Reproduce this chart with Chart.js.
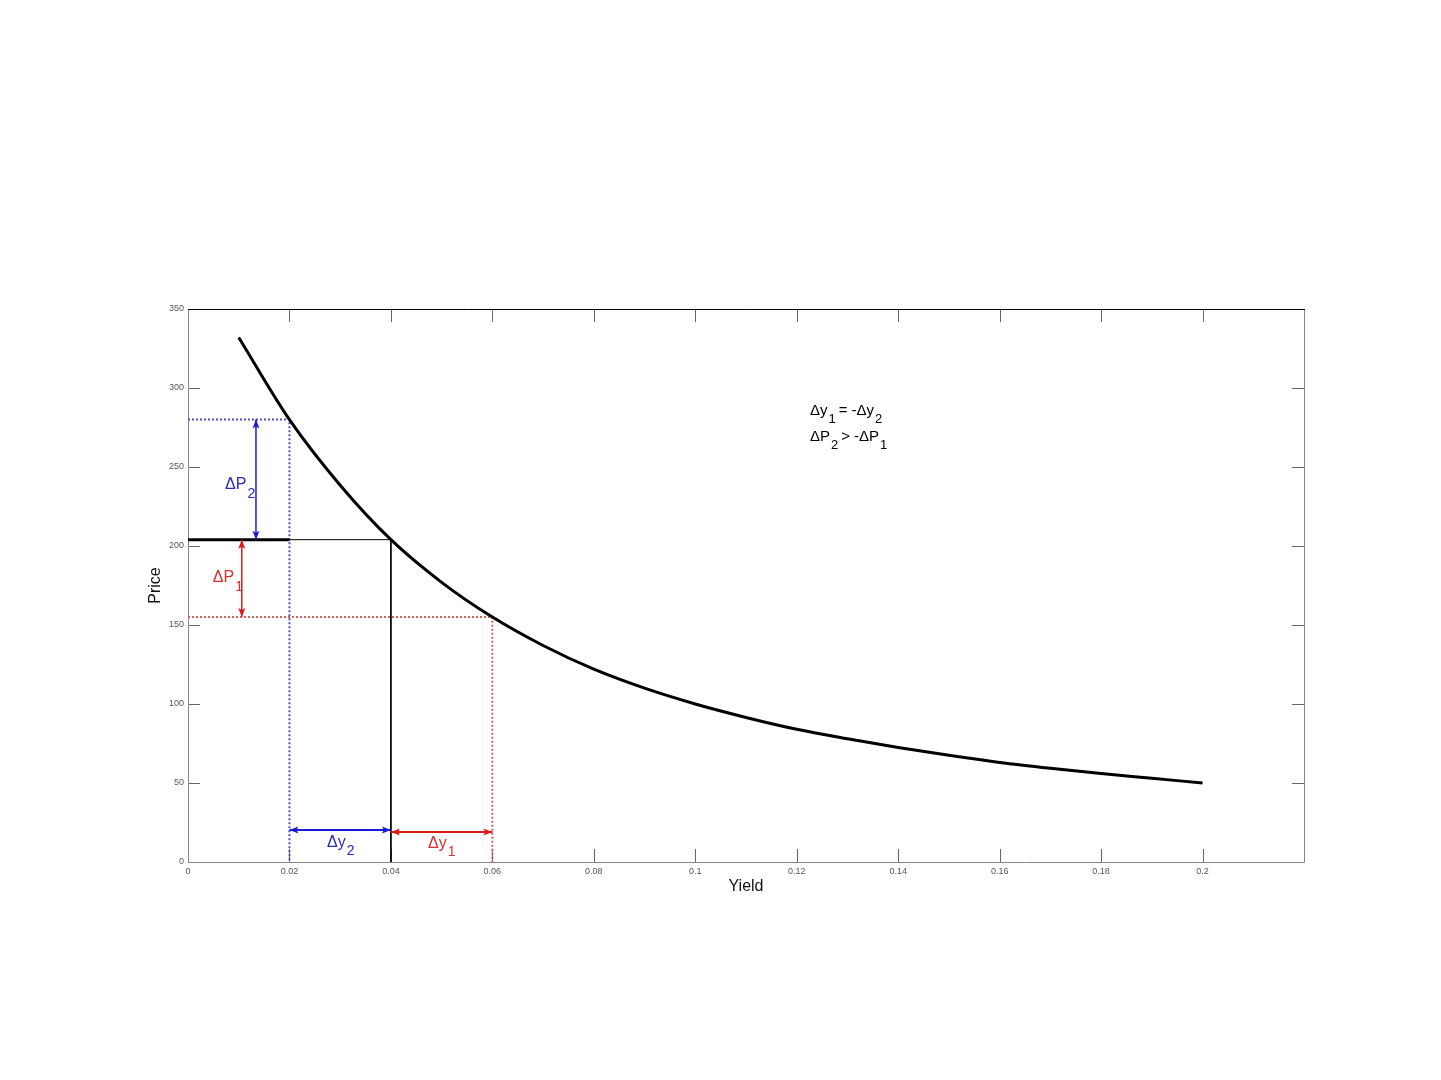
<!DOCTYPE html>
<html>
<head>
<meta charset="utf-8">
<script src="https://cdn.jsdelivr.net/npm/chart.js@4/dist/chart.umd.min.js"></script>
<style>
  body { margin: 0; background: #fff; }
  canvas { display: block; }
</style>
</head>
<body>
<canvas id="priceChart" width="1441" height="1080"></canvas>
<script>
// Price / yield curve
const yields = [0.01, 0.02, 0.03, 0.04, 0.05, 0.06, 0.07, 0.08, 0.09, 0.10,
                0.11, 0.12, 0.13, 0.14, 0.15, 0.16, 0.17, 0.18, 0.19, 0.20];
const prices = [332, 280, 238.5, 204, 177, 155, 137, 122, 110, 100,
                91.5, 84, 78, 72.5, 67.5, 63, 59.3, 56, 53, 50];

// tick labels
const xTicks = [0, 0.02, 0.04, 0.06, 0.08, 0.1, 0.12, 0.14, 0.16, 0.18, 0.2];
const yTicks = [0, 50, 100, 150, 200, 250, 300, 350];

// reference levels
const y2 = 0.02, y0 = 0.04, y1 = 0.06;
const p2 = 280, p0 = 204, p1 = 155;

// arrows: [x1, y1, x2, y2]
const arrowDP2 = [0.0134, p0, 0.0134, p2];
const arrowDP1 = [0.0106, p1, 0.0106, p0];
const arrowDy2 = [y2, 20.3, y0, 20.3];
const arrowDy1 = [y0, 19, y1, 19];

const blueArrow = '#1a1ad6';
const redArrow = '#e01818';

function seg(a) {
    return [{ x: a[0], y: a[1] }, { x: a[2], y: a[3] }];
}

function lineSet(data, color, width, dash) {
    return {
        data: data,
        borderColor: color,
        borderWidth: width,
        borderDash: dash || [],
        pointRadius: 0,
        fill: false,
        tension: 0
    };
}

// arrowheads + labels
const annotations = {
    id: 'annotations',
    afterDatasetsDraw(chart) {
        const ctx = chart.ctx;
        const xs = chart.scales.x, ys = chart.scales.y;
        const px = v => xs.getPixelForValue(v);
        const py = v => ys.getPixelForValue(v);

        function head(x, y, fromX, fromY, color) {
            const ang = Math.atan2(y - fromY, x - fromX);
            const len = 9, w = 3.5;
            ctx.save();
            ctx.translate(x, y);
            ctx.rotate(ang);
            ctx.fillStyle = color;
            ctx.beginPath();
            ctx.moveTo(0, 0);
            ctx.lineTo(-len, -w);
            ctx.lineTo(-len + 2, 0);
            ctx.lineTo(-len, w);
            ctx.closePath();
            ctx.fill();
            ctx.restore();
        }
        [[arrowDP2, blueArrow], [arrowDP1, redArrow], [arrowDy2, blueArrow], [arrowDy1, redArrow]]
            .forEach(([a, c]) => {
                const ax = px(a[0]), ay = py(a[1]), bx = px(a[2]), by = py(a[3]);
                head(ax, ay, bx, by, c);
                head(bx, by, ax, ay, c);
            });

        function sub(x, y, main, s, color, size) {
            ctx.save();
            ctx.fillStyle = color;
            ctx.textBaseline = 'middle';
            ctx.textAlign = 'left';
            ctx.font = size + 'px "Liberation Sans", Arial, sans-serif';
            ctx.fillText(main, x, y);
            const w = ctx.measureText(main).width;
            ctx.font = Math.round(size * 0.85) + 'px "Liberation Sans", Arial, sans-serif';
            ctx.fillText(s, x + w + 1, y + size * 0.55);
            const end = x + w + 1 + ctx.measureText(s).width;
            ctx.restore();
            return end;
        }
        sub(px(0.0073), py(238.6), '\u0394P', '2', '#2a2ac0', 16);
        sub(px(0.0049), py(179.7), '\u0394P', '1', '#d83030', 16);
        sub(px(0.0274), py(12.5), '\u0394y', '2', '#2a2ac0', 16);
        sub(px(0.0473), py(11.5), '\u0394y', '1', '#d83030', 16);

        // note
        const nx = px(0.1226);
        let e = sub(nx, py(285.4), '\u0394y', '1', '#000', 15);
        sub(e + 3, py(285.4), '= -\u0394y', '2', '#000', 15);
        e = sub(nx, py(268.8), '\u0394P', '2', '#000', 15);
        sub(e + 3, py(268.8), '> -\u0394P', '1', '#000', 15);
    },
    beforeDatasetsDraw(chart) {
        const ctx = chart.ctx;
        const a = chart.chartArea;
        const xs = chart.scales.x, ys = chart.scales.y;
        ctx.save();
        ctx.lineWidth = 1;
        // inner ticks on all four sides
        ctx.strokeStyle = '#666';
        ctx.beginPath();
        xTicks.forEach(v => {
            const x = Math.round(xs.getPixelForValue(v)) + 0.5;
            ctx.moveTo(x, a.bottom); ctx.lineTo(x, a.bottom - 13);
            ctx.moveTo(x, a.top); ctx.lineTo(x, a.top + 13);
        });
        yTicks.forEach(v => {
            const y = Math.round(ys.getPixelForValue(v)) + 0.5;
            ctx.moveTo(a.left, y); ctx.lineTo(a.left + 12, y);
            ctx.moveTo(a.right, y); ctx.lineTo(a.right - 12, y);
        });
        ctx.stroke();
        // frame
        ctx.strokeStyle = '#888';
        ctx.beginPath();
        ctx.moveTo(a.left + 0.5, a.top);
        ctx.lineTo(a.left + 0.5, a.bottom + 0.5);
        ctx.lineTo(a.right + 0.5, a.bottom + 0.5);
        ctx.lineTo(a.right + 0.5, a.top);
        ctx.stroke();
        ctx.strokeStyle = '#000';
        ctx.beginPath();
        ctx.moveTo(a.left, a.top + 0.5);
        ctx.lineTo(a.right + 1, a.top + 0.5);
        ctx.stroke();
        ctx.restore();
    }
};

const ctx = document.getElementById('priceChart').getContext('2d');
const priceChart = new Chart(ctx, {
    type: 'line',
    data: {
        datasets: [
            Object.assign(lineSet(yields.map((x, i) => ({ x: x, y: prices[i] })), '#000', 3), {
                cubicInterpolationMode: 'monotone'
            }),
            lineSet(seg(arrowDP2), blueArrow, 1.5),
            lineSet(seg(arrowDP1), redArrow, 1.5),
            lineSet(seg(arrowDy2), blueArrow, 2),
            lineSet(seg(arrowDy1), redArrow, 2),
            lineSet([{ x: 0, y: p0 }, { x: y2, y: p0 }], '#000', 3),
            lineSet([{ x: y2, y: p0 }, { x: y0, y: p0 }, { x: y0, y: 0 }], '#000', 1),
            lineSet([{ x: 0, y: p2 }, { x: y2, y: p2 }, { x: y2, y: 0 }], '#5050b8', 2, [2, 2]),
            lineSet([{ x: 0, y: p1 }, { x: y1, y: p1 }, { x: y1, y: 0 }], '#d06060', 2, [2, 2])
        ]
    },
    options: {
        responsive: false,
        animation: false,
        devicePixelRatio: 1,
        layout: { padding: { left: 142, right: 137, top: 309, bottom: 180 } },
        plugins: {
            legend: { display: false },
            tooltip: { enabled: false }
        },
        scales: {
            x: {
                type: 'linear',
                min: 0,
                max: 0.22,
                afterBuildTicks: s => { s.ticks = xTicks.map(v => ({ value: v })); },
                afterFit: s => { s.height = 38; },
                grid: { display: false, drawTicks: false },
                border: { display: false },
                ticks: {
                    padding: 4,
                    color: '#555',
                    font: { family: '"Liberation Sans Narrow", "Liberation Sans", Arial', size: 9 },
                    callback: v => String(Math.round(v * 100) / 100),
                    maxRotation: 0
                },
                title: {
                    display: true,
                    text: 'Yield',
                    color: '#111',
                    font: { family: '"Liberation Sans", Arial', size: 16 }
                }
            },
            y: {
                min: 0,
                max: 350,
                afterBuildTicks: s => { s.ticks = yTicks.map(v => ({ value: v })); },
                afterFit: s => { s.width = 46; },
                grid: { display: false, drawTicks: false },
                border: { display: false },
                ticks: {
                    padding: 4,
                    color: '#555',
                    font: { family: '"Liberation Sans Narrow", "Liberation Sans", Arial', size: 9 }
                },
                title: {
                    display: true,
                    text: 'Price',
                    color: '#111',
                    font: { family: '"Liberation Sans", Arial', size: 16 }
                }
            }
        }
    },
    plugins: [annotations]
});
</script>
</body>
</html>
